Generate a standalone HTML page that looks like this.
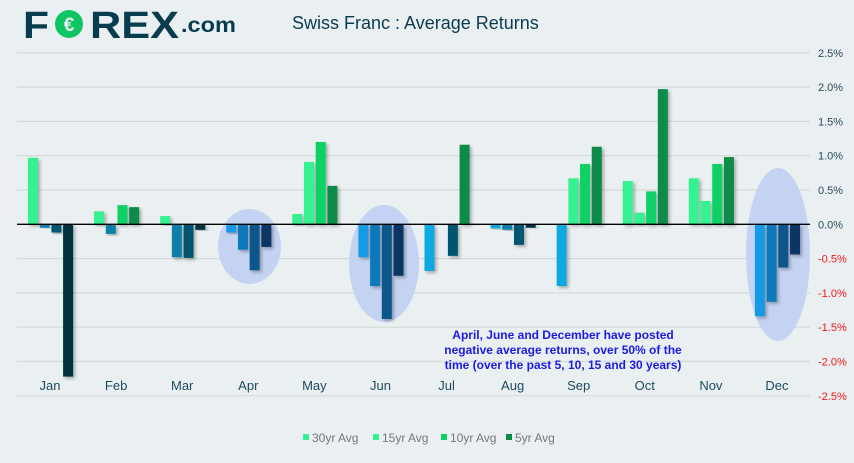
<!DOCTYPE html>
<html><head><meta charset="utf-8"><style>
html,body{margin:0;padding:0;background:#eaf0f1;}
body{width:854px;height:458px;overflow:hidden;font-family:"Liberation Sans",sans-serif;}
</style></head><body>
<svg id="chart" width="854" height="458" viewBox="0 0 854 458" xmlns="http://www.w3.org/2000/svg">
<defs><filter id="sh" x="-50%" y="-10%" width="200%" height="130%"><feDropShadow dx="2" dy="2" stdDeviation="1.5" flood-color="#000" flood-opacity="0.3"/></filter></defs>
<rect width="854" height="458" fill="#eaf0f1"/>
<g font-family="Liberation Sans, sans-serif" font-weight="bold" fill="#073c4f">
<text x="23" y="38" font-size="38" textLength="26" lengthAdjust="spacingAndGlyphs">F</text>
<circle cx="69" cy="24" r="14" fill="#0ec563"/>
<text x="69" y="31" font-size="19" fill="#eaf0f1" text-anchor="middle">€</text>
<text x="90" y="38" font-size="38" textLength="89" lengthAdjust="spacingAndGlyphs">REX</text>
<text x="181" y="32" font-size="21" textLength="55" lengthAdjust="spacingAndGlyphs">.com</text>
</g>
<text x="292" y="29" font-size="18" fill="#0d3a4f">Swiss Franc : Average Returns</text>
<g id="grid"></g><g id="ell"></g><g id="bars"></g><g id="labels"></g>
<line x1="17" x2="810" y1="224.3" y2="224.3" stroke="#000" stroke-width="1.3"/>
<g font-size="12" font-weight="bold" fill="#1a1ae6" text-anchor="middle">
<text x="563" y="339">April, June and December have posted</text>
<text x="563" y="354">negative average returns, over 50% of the</text>
<text x="563" y="369">time (over the past 5, 10, 15 and 30 years)</text>
</g>
<g id="legend" font-size="12" fill="#777"></g>
</svg>
<script>
const months=["Jan","Feb","Mar","Apr","May","Jun","Jul","Aug","Sep","Oct","Nov","Dec"];
const series=["30yr Avg","15yr Avg","10yr Avg","5yr Avg"];
const avg30=[0.97,0.19,0.12,-0.12,0.15,-0.48,-0.68,-0.06,-0.90,0.63,0.67,-1.34];
const avg15=[-0.05,-0.14,-0.48,-0.37,0.91,-0.90,0,-0.08,0.67,0.17,0.34,-1.13];
const avg10=[-0.12,0.28,-0.49,-0.67,1.20,-1.38,-0.46,-0.30,0.88,0.48,0.88,-0.63];
const avg5=[-2.22,0.25,-0.08,-0.33,0.56,-0.75,1.16,-0.05,1.13,1.97,0.98,-0.44];
const ticks=[2.5,2.0,1.5,1.0,0.5,0.0,-0.5,-1.0,-1.5,-2.0,-2.5];
const tickLabels=["2.5%","2.0%","1.5%","1.0%","0.5%","0.0%","-0.5%","-1.0%","-1.5%","-2.0%","-2.5%"];
const highlighted=["Apr","Jun","Dec"];
const NS="http://www.w3.org/2000/svg";
const X0=17,X1=810,Y0=224.3,PX=68.6;
const bw=(X1-X0)/12;
const y=v=>Y0-v*PX;
const xb=(i,s)=>X0+i*bw+11+s*11.7;
function mk(t,a,p){const e=document.createElementNS(NS,t);for(const k in a)e.setAttribute(k,a[k]);p.appendChild(e);return e;}
const g=document.getElementById('grid'),lb=document.getElementById('labels');
ticks.forEach((t,i)=>{
 if(t!==0){const l=mk('line',{x1:X0,x2:X1,y1:y(t),y2:y(t),stroke:'#d3d8da','stroke-width':1.2},g);
 
 }
 const tx=mk('text',{x:818,y:y(t)+4,'font-size':11,fill:t<0?'#f01818':'#2b4a5a'},lb);tx.textContent=tickLabels[i];
 
 
});
months.forEach((m,i)=>{
 const tx=mk('text',{x:X0+i*bw+bw/2,y:390,'font-size':13,fill:'#1d4a60','text-anchor':'middle'},lb);tx.textContent=m;
 
 
});
// ellipse geometry (decoration, not data): [cx, cy, rx, ry]
const ellGeom={Apr:[249.5,246.5,31.5,37.5],Jun:[384,263.5,35,58.5],Dec:[778,254.5,32,86.5]};
const eg=document.getElementById('ell');
highlighted.forEach(m=>{
 const [cx,cy,rx,ry]=ellGeom[m];
 const e=mk('ellipse',{cx,cy,rx,ry,fill:'#c5d3f2'},eg);
 
 
});
const pos=['#36f18f','#36f18f','#0bd165','#098b48'];
const negB=['#139ae5','#0d78ba','#0b568a','#093563'];
const negT=['#0fa9e0','#0a7fa8','#06546f','#03303f'];
const bg=document.getElementById('bars');
const all=[avg30,avg15,avg10,avg5];
months.forEach((m,i)=>{all.forEach((arr,s)=>{
 const v=arr[i]; if(v===0)return;
 const neg=highlighted.includes(m)?negB:negT;
 const r=mk('rect',{x:xb(i,s),width:10,y:Math.min(y(v),Y0),height:Math.abs(y(v)-Y0),fill:v>=0?pos[s]:neg[s],filter:'url(#sh)'},bg);
 
 
});});
const lg=document.getElementById('legend');
const lx=[303,373,441,506],lc=['#36f18f','#36f18f','#0bd165','#098b48'];
series.forEach((s,i)=>{
 const gg=mk('g',{},lg);
 
 
 mk('rect',{x:lx[i],y:434,width:6,height:6,fill:lc[i]},gg);
 const t=mk('text',{x:lx[i]+9,y:442},gg);t.textContent=s;
});
</script>
</body></html>
